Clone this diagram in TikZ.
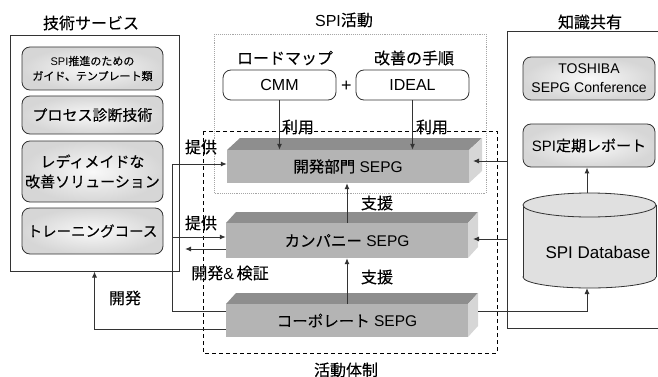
\documentclass[tikz,border=0pt]{standalone}
\usepackage{fontspec}
\setmainfont{Liberation Sans}
\newfontfamily\jpfont{Noto Sans CJK JP}[FakeBold=0.2]
\newcommand{\J}[1]{{\jpfont #1}}
\usetikzlibrary{arrows.meta}
\definecolor{ln}{HTML}{333333}
\definecolor{topc}{HTML}{8E8E8E}
\definecolor{frontc}{HTML}{B4B4B4}
\definecolor{sidec}{HTML}{D6D6D6}
\definecolor{dbc}{HTML}{E0E0E0}
\tikzset{
  lw/.style={line width=1pt, draw=ln},
  arr/.style={lw, -{Latex[length=6pt,width=5pt]}},
  tI/.style={font=\fontsize{16}{19}\selectfont, inner sep=0pt},
  rbox/.style={draw=ln, line width=0.8pt, rounded corners=8pt, inner color=gray!5, outer color=gray!32,
    minimum width=141pt, align=center, inner sep=1pt},
  wbox/.style={draw=ln, line width=0.8pt, rounded corners=8pt, fill=white,
    minimum width=113pt, minimum height=30pt, inner sep=1pt, font=\fontsize{16}{19}\selectfont},
  front/.style={fill=frontc, minimum width=242pt, inner sep=0pt, font=\fontsize{15.5}{19}\selectfont}
}
\begin{document}
\begin{tikzpicture}[x=1pt,y=-1pt]
\useasboundingbox (0,0) rectangle (658,377);

% ---------- left panel ----------
\node[tI] (ttech) at (91,23) {\J{技術サービス}};
\node[lw, minimum width=169pt, minimum height=235pt, inner sep=0pt] (panel) at (94.5,153.5) {};
\node[rbox, minimum height=43pt, font=\fontsize{11}{15}\selectfont] (b1) at (92.5,68.5)
  {SPI\J{推進のための}\\\J{ガイド、テンプレート類}};
\node[rbox, minimum height=38pt, font=\fontsize{15}{19}\selectfont] (b2) at (92.5,115) {\J{プロセス診断技術}};
\node[rbox, minimum height=61pt, font=\fontsize{15}{20}\selectfont] (b3) at (92.5,171.5) {\J{レディメイドな}\\\J{改善ソリューション}};
\node[rbox, minimum height=46pt, font=\fontsize{14.5}{19}\selectfont] (b4) at (92.5,231) {\J{トレーニングコース}};

% ---------- SPI activity ----------
\node[tI] (tspi) at (344,20) {SPI\J{活動}};
\draw[gray!70, densely dotted, line width=0.9pt] (214,34) rectangle (486,193);
\node[tI] (troad) at (285,58) {\J{ロードマップ}};
\node[tI] (tideal) at (414,58) {\J{改善の手順}};
\node[wbox] (cmm) at (279.5,85) {CMM};
\node[wbox] (ideal) at (412.5,85) {IDEAL};
\node[font=\fontsize{18}{20}\selectfont, inner sep=0pt] (plus) at (346.5,86) {+};

% ---------- organisation ----------
\draw[black, line width=0.8pt, dash pattern=on 4pt off 3pt] (203,131) rectangle (497,353);
\node[tI] (torg) at (346,370) {\J{活動体制}};

% dev SEPG (depth 13/12)
\fill[topc] (227,150) -- (240,138) -- (482,138) -- (469,150) -- cycle;
\fill[sidec] (469,150) -- (482,138) -- (482,171) -- (469,183) -- cycle;
\node[front, minimum height=33pt] (dev) at (348,166.5) {\J{開発部門} SEPG};
% company SEPG
\fill[topc] (226,223) -- (236,212) -- (478,212) -- (468,223) -- cycle;
\fill[sidec] (468,223) -- (478,212) -- (478,247) -- (468,258) -- cycle;
\node[front, minimum height=35pt] (comp) at (347,240.5) {\J{カンパニー} SEPG};
% corporate SEPG
\fill[topc] (226,304) -- (236,293) -- (478,293) -- (468,304) -- cycle;
\fill[sidec] (468,304) -- (478,293) -- (478,326) -- (468,337) -- cycle;
\node[front, minimum height=33pt] (corp) at (347,320.5) {\J{コーポレート} SEPG};

% ---------- knowledge sharing ----------
\node[tI] (tknow) at (590,22) {\J{知識共有}};
\coordinate (kTL) at (507,32);
\coordinate (kBL) at (507,328);
\draw[lw] (658,32) -- (kTL) -- (kBL) -- (658,328);
\node[rbox, minimum width=132pt, minimum height=43pt, font=\fontsize{14}{19}\selectfont] (tosh) at (589,78.5) {TOSHIBA\\SEPG Conference};
\node[rbox, minimum width=132pt, minimum height=43pt, font=\fontsize{15}{19}\selectfont] (rep) at (589,145.5) {SPI\J{定期レポート}};
% database cylinder
\filldraw[fill=dbc, draw=ln, line width=0.8pt] (589.5,277) ellipse [x radius=66.5, y radius=11];
\fill[dbc] (523,205) rectangle (656,277);
\draw[ln, line width=0.8pt] (523,205) -- (523,277) (656,205) -- (656,277);
\filldraw[fill=dbc, draw=ln, line width=0.8pt] (589.5,205) ellipse [x radius=66.5, y radius=12];
\node[font=\fontsize{17}{20}\selectfont, inner sep=0pt] (db) at (598,252) {SPI Database};

% ---------- connectors ----------
\draw[arr] (cmm.south) -- (cmm.south |- dev.north);
\draw[arr] (ideal.south) -- (ideal.south |- dev.north);
\node[tI] (use1) at (298,127) {\J{利用}};
\node[tI] (use2) at (432,127) {\J{利用}};
\draw[arr] (comp.north) -- (comp.north |- dev.south);
\draw[arr] (corp.north) -- (corp.north |- comp.south);
\node[tI] (sup1) at (377,203) {\J{支援}};
\node[tI] (sup2) at (377,277) {\J{支援}};

\coordinate (jA) at (172,311);
\coordinate (jB) at (172,237);
\coordinate (tipL) at (185,249);
\draw[arr] (corp.west |- jA) -- (jA) |- ([yshift=2.5pt]dev.west);
\draw[arr] (jB) -- (jB -| comp.west);
\draw[arr] (comp.west |- tipL) -- (tipL);
\draw[arr] ([yshift=-8.5pt]corp.west) -| (panel.south);
\node[tI] (prov1) at (201,147) {\J{提供}};
\node[tI] (prov2) at (201,223) {\J{提供}};
\node[tI] (devver) at (230,273) {\J{開発}\&\,\J{検証}};
\node[tI] (devl) at (125,298) {\J{開発}};

\coordinate (tipD) at (473,161);
\coordinate (tipC) at (473,239);
\coordinate (corpR) at (478,311);
\coordinate (dbB) at (587,288);
\coordinate (dbT) at (587,193);
\draw[arr] (kTL |- tipD) -- (tipD);
\draw[arr] (kTL |- tipC) -- (tipC);
\draw[arr] (corpR) -| (dbB);
\draw[arr] (dbT) -- (dbT |- rep.south);
\end{tikzpicture}
\end{document}
